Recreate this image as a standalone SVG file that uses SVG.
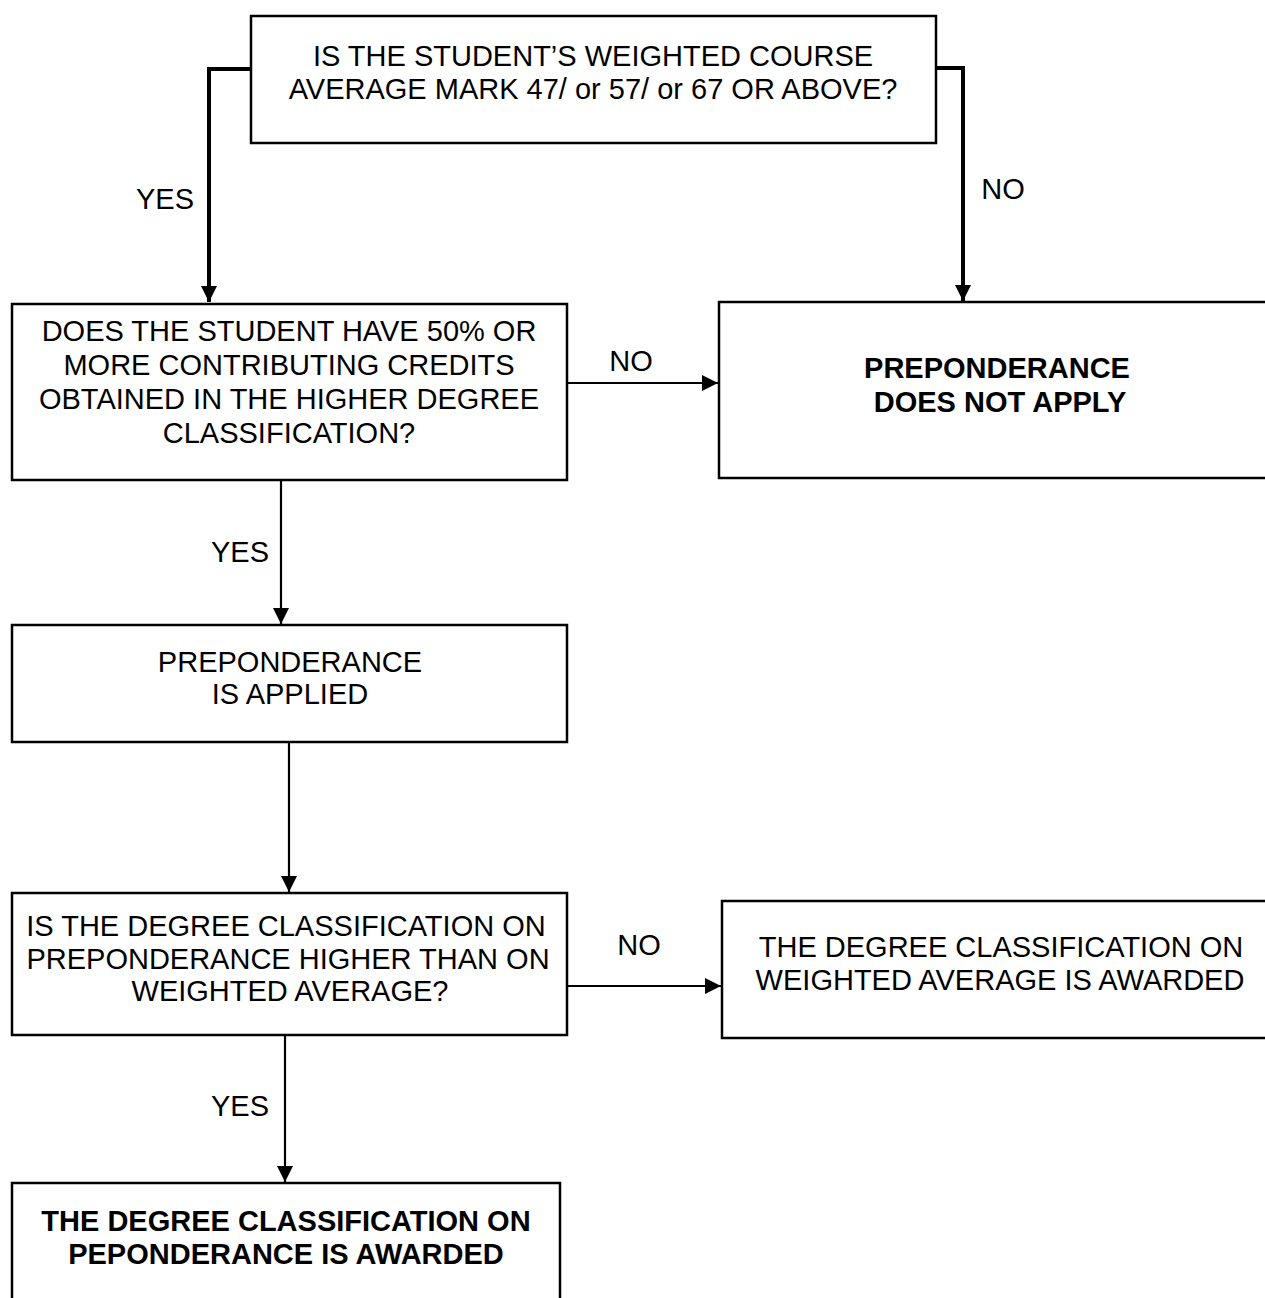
<svg xmlns="http://www.w3.org/2000/svg" width="1265" height="1298" viewBox="0 0 1265 1298">
<defs>
<style>
.box{fill:#fff;stroke:#000;stroke-width:2.5}
.t{font-family:"Liberation Sans",Arial,sans-serif;font-size:29px;fill:#000;text-anchor:middle}
.b{font-weight:bold}
.lbl{font-family:"Liberation Sans",Arial,sans-serif;font-size:29px;fill:#000;text-anchor:middle}
.thick{fill:none;stroke:#000;stroke-width:4}
.thin{fill:none;stroke:#000;stroke-width:2.2}
</style>
<marker id="arr" markerUnits="userSpaceOnUse" markerWidth="16" markerHeight="16" viewBox="0 0 16 16" refX="16" refY="8" orient="auto">
<path d="M0,0 L16,8 L0,16 Z" fill="#000"/>
</marker>
</defs>
<rect width="1265" height="1298" fill="#fff"/>
<g id="connectors">
<polyline class="thick" points="251,69 209,69 209,302" marker-end="url(#arr)"/>
<polyline class="thick" points="936,68 963,68 963,301" marker-end="url(#arr)"/>
<line class="thin" x1="567" y1="383" x2="718" y2="383" marker-end="url(#arr)"/>
<line class="thin" x1="281" y1="480" x2="281" y2="624" marker-end="url(#arr)"/>
<line class="thin" x1="289" y1="743" x2="289" y2="892" marker-end="url(#arr)"/>
<line class="thin" x1="567" y1="986" x2="721" y2="986" marker-end="url(#arr)"/>
<line class="thin" x1="285" y1="1036" x2="285" y2="1182" marker-end="url(#arr)"/>
<text class="lbl" x="165" y="209">YES</text>
<text class="lbl" x="1003" y="199">NO</text>
<text class="lbl" x="631" y="371">NO</text>
<text class="lbl" x="240" y="562">YES</text>
<text class="lbl" x="639" y="955">NO</text>
<text class="lbl" x="240" y="1116">YES</text>
</g>
<g id="n1">
<rect class="box" x="251" y="16" width="685" height="127"/>
<text class="t" x="593" y="66">IS THE STUDENT’S WEIGHTED COURSE</text>
<text class="t" x="593" y="99">AVERAGE MARK 47/ or 57/ or 67 OR ABOVE?</text>
</g>
<g id="n2">
<rect class="box" x="12" y="304" width="555" height="176"/>
<text class="t" x="289" y="341">DOES THE STUDENT HAVE 50% OR</text>
<text class="t" x="289" y="375">MORE CONTRIBUTING CREDITS</text>
<text class="t" x="289" y="409">OBTAINED IN THE HIGHER DEGREE</text>
<text class="t" x="289" y="443">CLASSIFICATION?</text>
</g>
<g id="n3">
<rect class="box" x="719" y="302" width="560" height="176"/>
<text class="t b" x="997" y="378">PREPONDERANCE</text>
<text class="t b" x="1000" y="412">DOES NOT APPLY</text>
</g>
<g id="n4">
<rect class="box" x="12" y="625" width="555" height="117"/>
<text class="t" x="290" y="672">PREPONDERANCE</text>
<text class="t" x="290" y="704">IS APPLIED</text>
</g>
<g id="n5">
<rect class="box" x="12" y="893" width="555" height="142"/>
<text class="t" x="286" y="936">IS THE DEGREE CLASSIFICATION ON</text>
<text class="t" x="288" y="969">PREPONDERANCE HIGHER THAN ON</text>
<text class="t" x="290" y="1001">WEIGHTED AVERAGE?</text>
</g>
<g id="n6">
<rect class="box" x="722" y="901" width="560" height="137"/>
<text class="t" x="1001" y="957">THE DEGREE CLASSIFICATION ON</text>
<text class="t" x="1000" y="990">WEIGHTED AVERAGE IS AWARDED</text>
</g>
<g id="n7">
<rect class="box" x="12" y="1183" width="548" height="140"/>
<text class="t b" x="286" y="1231">THE DEGREE CLASSIFICATION ON</text>
<text class="t b" x="286" y="1264">PEPONDERANCE IS AWARDED</text>
</g>
</svg>
